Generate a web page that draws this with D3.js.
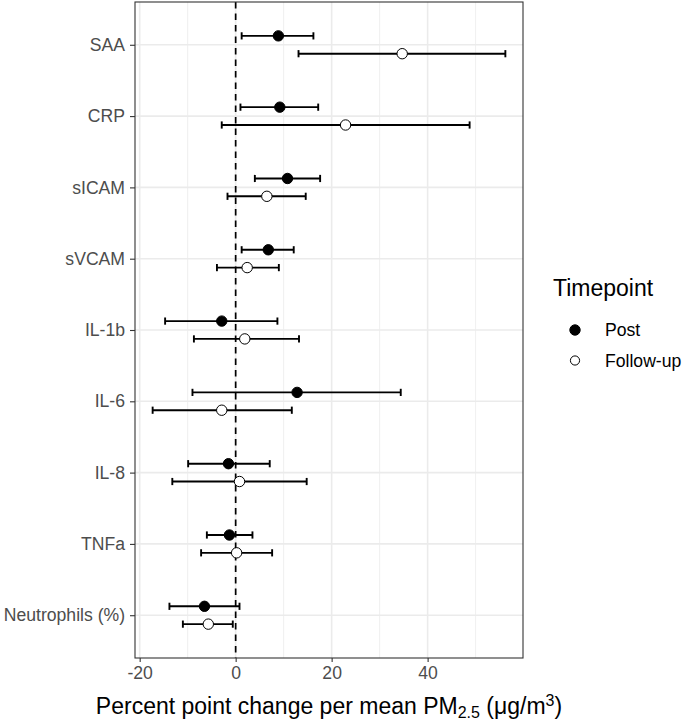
<!DOCTYPE html>
<html>
<head>
<meta charset="utf-8">
<script src="https://cdn.jsdelivr.net/npm/d3@7"></script>
<style>
  html, body { margin: 0; padding: 0; background: #fff; }
  svg { display: block; font-family: "Liberation Sans", Arial, sans-serif; }
</style>
</head>
<body>
<svg id="chart" width="685" height="723"></svg>
<script>
// ---- data ----
const categories = ["SAA", "CRP", "sICAM", "sVCAM", "IL-1b", "IL-6", "IL-8", "TNFa", "Neutrophils (%)"];
const postEst = [8.9, 9.2, 10.8, 6.8, -2.9, 12.8, -1.5, -1.3, -6.5];
const postLo  = [1.25, 1.0, 4.0, 1.25, -14.7, -9.0, -9.9, -6.0, -13.8];
const postHi  = [16.2, 17.2, 17.6, 12.1, 8.7, 34.4, 7.1, 3.5, 0.8];
const fuEst = [34.7, 22.9, 6.5, 2.4, 1.9, -2.9, 0.8, 0.2, -5.7];
const fuLo  = [13.1, -2.9, -1.7, -3.9, -8.7, -17.3, -13.2, -7.2, -11.0];
const fuHi  = [56.2, 48.75, 14.6, 9.0, 13.2, 11.7, 14.8, 7.6, -0.6];
const seriesNames = ["Post", "Follow-up"];
const xMajorTicks = [-20, 0, 20, 40];
const xMinorTicks = [-10, 10, 30, 50];

const rows = [];
categories.forEach((c, i) => {
  rows.push({cat: c, series: "Post", est: postEst[i], lo: postLo[i], hi: postHi[i]});
  rows.push({cat: c, series: "Follow-up", est: fuEst[i], lo: fuLo[i], hi: fuHi[i]});
});

// ---- layout ----
const panel = {left: 135, right: 523, top: 2, bottom: 658};
const svg = d3.select("#chart");

const allVals = rows.flatMap(d => [d.lo, d.hi]);
const [mn, mx] = d3.extent(allVals);
const pad = (mx - mn) * 0.05;
const x = d3.scaleLinear().domain([mn - pad, mx + pad]).range([panel.left, panel.right]);
const y = d3.scalePoint().domain(categories).range([panel.top, panel.bottom]).padding(0.6);
const dodge = d3.scalePoint().domain(seriesNames).range([-y.step() * 0.125, y.step() * 0.125]);

const grid = svg.append("g");
// minor vertical grid
grid.selectAll("line.minor").data(xMinorTicks).join("line")
  .attr("x1", d => x(d)).attr("x2", d => x(d))
  .attr("y1", panel.top).attr("y2", panel.bottom)
  .attr("stroke", "#EBEBEB").attr("stroke-width", 0.8);
// major vertical grid
grid.selectAll("line.majx").data(xMajorTicks).join("line")
  .attr("x1", d => x(d)).attr("x2", d => x(d))
  .attr("y1", panel.top).attr("y2", panel.bottom)
  .attr("stroke", "#EBEBEB").attr("stroke-width", 1.6);
// major horizontal grid
grid.selectAll("line.majy").data(categories).join("line")
  .attr("x1", panel.left).attr("x2", panel.right)
  .attr("y1", d => y(d)).attr("y2", d => y(d))
  .attr("stroke", "#EBEBEB").attr("stroke-width", 1.6);

// reference line at 0
svg.append("line")
  .attr("x1", x(0)).attr("x2", x(0))
  .attr("y1", panel.top).attr("y2", panel.bottom)
  .attr("stroke", "#000").attr("stroke-width", 1.7)
  .attr("stroke-dasharray", "6.5,5");

// error bars
const cap = 3.6;
const eb = svg.append("g").selectAll("g").data(rows).join("g")
  .attr("transform", d => `translate(0,${y(d.cat) + dodge(d.series)})`);
eb.append("line").attr("x1", d => x(d.lo)).attr("x2", d => x(d.hi))
  .attr("y1", 0).attr("y2", 0).attr("stroke", "#000").attr("stroke-width", 1.9);
eb.append("line").attr("x1", d => x(d.lo)).attr("x2", d => x(d.lo))
  .attr("y1", -cap).attr("y2", cap).attr("stroke", "#000").attr("stroke-width", 1.9);
eb.append("line").attr("x1", d => x(d.hi)).attr("x2", d => x(d.hi))
  .attr("y1", -cap).attr("y2", cap).attr("stroke", "#000").attr("stroke-width", 1.9);
// points
eb.append("circle").attr("cx", d => x(d.est)).attr("cy", 0)
  .attr("r", 5.2)
  .attr("fill", d => d.series === "Post" ? "#000" : "#fff")
  .attr("stroke", "#000").attr("stroke-width", 1);

// panel border
svg.append("rect")
  .attr("x", panel.left).attr("y", panel.top)
  .attr("width", panel.right - panel.left).attr("height", panel.bottom - panel.top)
  .attr("fill", "none").attr("stroke", "#333333").attr("stroke-width", 1.1);

// axes
const xAxis = svg.append("g").attr("transform", `translate(0,${panel.bottom})`)
  .call(d3.axisBottom(x).tickValues(xMajorTicks).tickSize(4).tickPadding(5).tickFormat(d3.format("d")));
const yAxis = svg.append("g").attr("transform", `translate(${panel.left},0)`)
  .call(d3.axisLeft(y).tickSize(5).tickPadding(5));
[xAxis, yAxis].forEach(a => {
  a.select(".domain").remove();
  a.selectAll(".tick line").attr("stroke", "#333333").attr("stroke-width", 1.1);
  a.selectAll(".tick text").attr("fill", "#4D4D4D")
    .style("font-size", "17.6px").style("font-family", "'Liberation Sans', Arial, sans-serif");
});
xAxis.selectAll(".tick text").text(d => d < 0 ? "-" + Math.abs(d) : d);

// x axis title
const title = svg.append("text")
  .attr("x", (panel.left + panel.right) / 2).attr("y", 714)
  .attr("text-anchor", "middle").attr("fill", "#000")
  .style("font-size", "23px");
title.append("tspan").text("Percent point change per mean PM");
title.append("tspan").attr("dy", 4).style("font-size", "16px").text("2.5");
title.append("tspan").attr("dy", -4).text(" (\u03BCg/m");
title.append("tspan").attr("dy", -8).style("font-size", "16px").text("3");
title.append("tspan").attr("dy", 8).text(")");

// legend
const lg = svg.append("g");
lg.append("text").attr("x", 553).attr("y", 296).attr("fill", "#000")
  .style("font-size", "23px").text("Timepoint");
const items = lg.selectAll("g.item").data(seriesNames).join("g")
  .attr("transform", (d, i) => `translate(0,${330 + i * 30.5})`);
items.append("circle").attr("cx", 575).attr("cy", 0)
  .attr("r", d => d === "Post" ? 5.2 : 4.6)
  .attr("fill", d => d === "Post" ? "#000" : "#fff")
  .attr("stroke", "#000").attr("stroke-width", 1);
items.append("text").attr("x", 605).attr("y", 0).attr("dy", "0.36em")
  .attr("fill", "#000").style("font-size", "17.6px").text(d => d);
</script>
</body>
</html>
